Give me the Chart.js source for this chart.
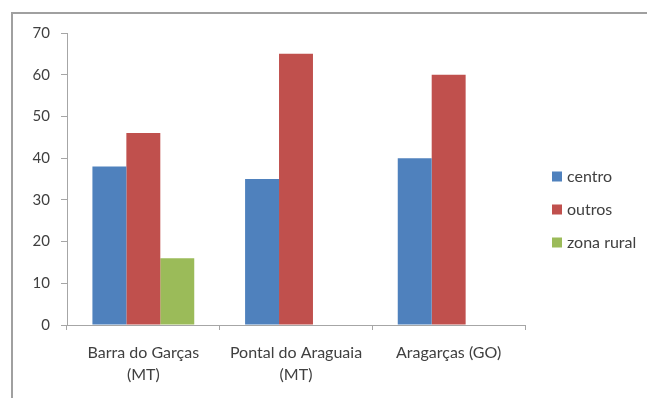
<!DOCTYPE html>
<html>
<head>
<meta charset="utf-8">
<script src="https://cdn.jsdelivr.net/npm/chart.js@4.4.0/dist/chart.umd.min.js"></script>
<style>
  html, body { margin: 0; padding: 0; background: #fff; }
  #wrap { position: relative; width: 647px; height: 398px; }
</style>
</head>
<body>
<div id="wrap"><canvas id="chart" width="647" height="398"></canvas></div>
<script>
// categories and series
const cidades = [['Barra do Garças', '(MT)'], ['Pontal do Araguaia', '(MT)'], 'Aragarças (GO)'];
const centro = [38, 35, 40];
const outros = [46, 65, 60];
const zonaRural = [16, null, null];
const yTicks = [0, 10, 20, 30, 40, 50, 60, 70];

const textColor = '#404040';
const axisColor = '#a6a6a6';
const fontFamily = 'Lato, "Open Sans", sans-serif';

// outer frame (top + left edges) and the legend on the right
const frameAndLegend = {
  id: 'frameAndLegend',
  beforeDraw(chart) {
    const ctx = chart.ctx;
    ctx.save();
    ctx.strokeStyle = '#a0a0a0';
    ctx.lineWidth = 2;
    ctx.beginPath();
    ctx.moveTo(12, 400);
    ctx.lineTo(12, 13);
    ctx.lineTo(650, 13);
    ctx.stroke();
    ctx.restore();
  },
  afterDraw(chart) {
    const ctx = chart.ctx;
    ctx.save();
    ctx.font = '16px ' + fontFamily;
    ctx.textBaseline = 'middle';
    ctx.textAlign = 'left';
    chart.data.datasets.forEach((ds, i) => {
      const cy = 176.5 + i * 33;
      ctx.fillStyle = ds.backgroundColor;
      ctx.fillRect(552, cy - 5, 10, 10);
      ctx.fillStyle = textColor;
      ctx.fillText(ds.label, 567, cy + 0.5);
    });
    ctx.restore();
  }
};

new Chart(document.getElementById('chart'), {
  type: 'bar',
  data: {
    labels: cidades,
    datasets: [
      { label: 'centro', data: centro, backgroundColor: '#4f81bd' },
      { label: 'outros', data: outros, backgroundColor: '#c0504d' },
      { label: 'zona rural', data: zonaRural, backgroundColor: '#9bbb59' }
    ]
  },
  options: {
    responsive: false,
    animation: false,
    devicePixelRatio: 1,
    layout: { padding: { left: 27, top: 33, right: 122, bottom: 12 } },
    datasets: {
      bar: { categoryPercentage: 0.667, barPercentage: 1, borderWidth: 0 }
    },
    plugins: {
      legend: { display: false },
      tooltip: { enabled: false }
    },
    scales: {
      x: {
        offset: true,
        grid: { offset: true, drawOnChartArea: false, tickLength: 5, color: axisColor },
        border: { color: axisColor, width: 1 },
        ticks: {
          color: textColor,
          padding: 12,
          font: { family: fontFamily, size: 16, lineHeight: '22px' },
          maxRotation: 0,
          autoSkip: false
        },
        afterFit(scale) { scale.height = 61; }
      },
      y: {
        min: 0,
        max: 70,
        afterBuildTicks(scale) { scale.ticks = yTicks.map(v => ({ value: v })); },
        grid: { drawOnChartArea: false, tickLength: 6, color: axisColor },
        border: { color: axisColor, width: 1 },
        ticks: {
          color: textColor,
          padding: 11,
          font: { family: fontFamily, size: 15 }
        },
        afterFit(scale) { scale.width = 40; }
      }
    }
  },
  plugins: [frameAndLegend]
});
</script>
</body>
</html>
